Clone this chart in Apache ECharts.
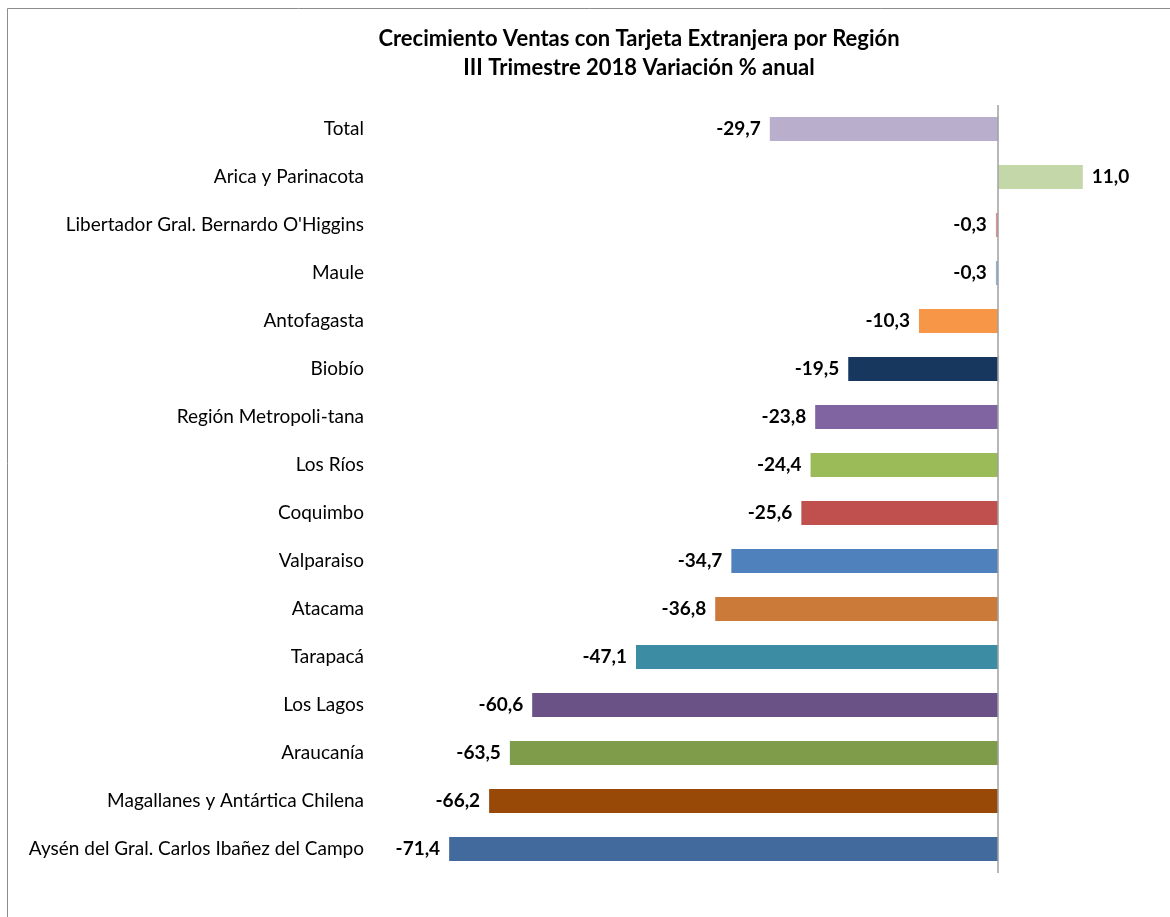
<!DOCTYPE html>
<html>
<head>
<meta charset="utf-8">
<script src="https://cdn.jsdelivr.net/npm/echarts@6/dist/echarts.min.js"></script>
<style>
  html, body { margin: 0; padding: 0; background: #fff; }
  #chart { width: 1170px; height: 917px; }
</style>
</head>
<body>
<div id="chart"></div>
<script>
const regions = [
    "Total",
    "Arica y Parinacota",
    "Libertador Gral. Bernardo O'Higgins",
    "Maule",
    "Antofagasta",
    "Biobío",
    "Región Metropoli-tana",
    "Los Ríos",
    "Coquimbo",
    "Valparaiso",
    "Atacama",
    "Tarapacá",
    "Los Lagos",
    "Araucanía",
    "Magallanes y Antártica Chilena",
    "Aysén del Gral. Carlos Ibañez del Campo"
];
const variation = [-29.7, 11.0, -0.3, -0.3, -10.3, -19.5, -23.8, -24.4, -25.6, -34.7, -36.8, -47.1, -60.6, -63.5, -66.2, -71.4];
const barColors = [
    "#B9AECB", "#C4D7A9", "#D99594", "#95B3D7", "#F79646", "#17375E",
    "#8064A2", "#9BBB59", "#C0504D", "#4F81BD", "#CC7A3A", "#3C8CA3",
    "#6A5286", "#7F9C4A", "#984807", "#426A9C"
];

const font = "Lato, 'Open Sans', sans-serif";
const chart = echarts.init(document.getElementById("chart"));

const option = {
    animation: false,
    textStyle: { fontFamily: font },
    title: {
        text: "Crecimiento Ventas con Tarjeta Extranjera por Región\nIII Trimestre 2018 Variación % anual",
        left: 634,
        textAlign: "center",
        top: 19,
        textStyle: {
            fontFamily: font,
            fontSize: 22,
            fontWeight: "bold",
            color: "#000",
            lineHeight: 29
        }
    },
    graphic: [
        {
            type: "rect",
            shape: { x: 7.5, y: 8.5, width: 1300, height: 1000 },
            style: { fill: "none", stroke: "#8c8c8c", lineWidth: 1 },
            silent: true
        }
    ],
    grid: {
        left: 383,
        right: 18,
        top: 105,
        bottom: 44
    },
    xAxis: {
        type: "value",
        min: -80,
        max: 20,
        show: false
    },
    yAxis: {
        type: "category",
        data: regions,
        inverse: true,
        axisLine: { show: false },
        axisTick: { show: false },
        axisLabel: {
            margin: 19,
            fontFamily: font,
            fontSize: 19,
            color: "#000"
        }
    },
    series: [
        {
            type: "bar",
            barWidth: 24,
            data: variation.map(function (v, i) {
                return {
                    value: v,
                    itemStyle: { color: barColors[i] },
                    label: { position: v < 0 ? "left" : "right" }
                };
            }),
            label: {
                show: true,
                distance: 9,
                fontFamily: font,
                fontSize: 19,
                fontWeight: "bold",
                color: "#000",
                formatter: function (p) {
                    return Number(p.value).toFixed(1).replace(".", ",");
                }
            },
            markLine: {
                silent: true,
                symbol: "none",
                label: { show: false },
                lineStyle: { color: "#a0a0a0", width: 1.5, type: "solid" },
                data: [{ xAxis: 0 }]
            }
        }
    ]
};

chart.setOption(option);
</script>
</body>
</html>
